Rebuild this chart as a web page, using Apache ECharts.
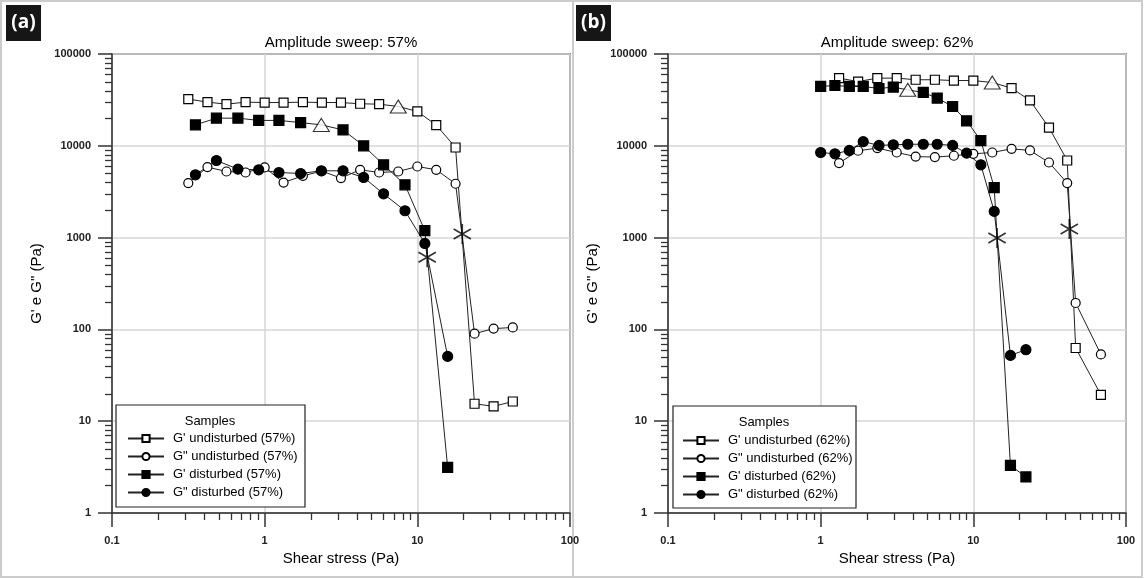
<!DOCTYPE html>
<html><head><meta charset="utf-8">
<script src="https://cdn.jsdelivr.net/npm/echarts@6/dist/echarts.min.js"></script>
<style>html,body{margin:0;padding:0;background:#fff}#c{width:1144px;height:579px}</style>
</head><body><div id="c"></div>
<script>
// ---------- Panel (a): Amplitude sweep 57% ----------
const xUndistA   = [0.316,0.422,0.562,0.75,1.0,1.33,1.78,2.37,3.16,4.22,5.62,7.5,10,13.3,17.8,23.7,31.6,42.2];
const gpUndistA  = [32300,29900,28400,29900,29600,29600,29900,29600,29600,28700,28400,26800,23700,16800,9580,15.5,14.5,16.4];
const gppUndistA = [3930,5860,5250,5120,5810,3980,4710,5300,4450,5480,5120,5250,5950,5480,3860,89.8,102,105];
const xDistA     = [0.352,0.483,0.668,0.914,1.24,1.72,2.35,3.26,4.45,6.01,8.3,11.2,15.8];
const gpDistA    = [16900,20000,20000,18900,18900,17900,16900,14900,10000,6210,3760,1190,3.14];
const gppDistA   = [4830,6920,5570,5480,5120,4990,5340,5340,4520,3000,1960,863,50.8];
const lvrIdxUndistA = 11;   // triangle on G' undisturbed
const lvrIdxDistA   = 6;    // triangle on G' disturbed
const crossXA = [11.6, 19.7];
const crossYA = [610, 1095];

// ---------- Panel (b): Amplitude sweep 62% ----------
const xUndistB   = [1.32,1.76,2.35,3.15,4.19,5.6,7.46,10,13.3,17.8,23.5,31.3,41.2,46.8,68.5];
const gpUndistB  = [54600,50100,54600,54600,52400,52400,51400,51400,48900,42500,31200,15800,6920,62.7,19.4];
const gppUndistB = [6480,8830,9440,8450,7640,7530,7790,8180,8450,9270,8900,6580,3930,194,53.4];
const xDistB     = [1.0,1.24,1.54,1.90,2.41,2.99,3.72,4.70,5.80,7.32,9.03,11.2,13.7,17.5,22.1];
const gpDistB    = [44300,45400,44300,44300,42100,43600,40700,38100,33100,26800,18700,11400,3510,3.30,2.47];
const gppDistB   = [8450,8180,8900,11100,10100,10250,10400,10400,10400,10100,8320,6210,1930,52.1,60.1];
const lvrIdxUndistB = 8;
const lvrIdxDistB   = 6;
const crossXB = [14.3, 42.5];
const crossYB = [990, 1240];

// ---------- Text ----------
const titles = ['Amplitude sweep: 57%', 'Amplitude sweep: 62%'];
const panelTags = ['(a)', '(b)'];
const namesA = ["G' undisturbed (57%)", 'G" undisturbed (57%)', "G' disturbed (57%)", 'G" disturbed (57%)'];
const namesB = ["G' undisturbed (62%)", 'G" undisturbed (62%)', "G' disturbed (62%)", 'G" disturbed (62%)'];
const xName = 'Shear stress (Pa)';
const yName = 'G\' e G" (Pa)';
const legendTitle = 'Samples';
const minorMult = [2,3,4,5,6,7,8,9];
const xDecades = [0.1, 1, 10];
const yDecades = [1, 10, 100, 1000, 10000];

const FONT = "'Liberation Sans', Arial, sans-serif";
const chart = echarts.init(document.getElementById('c'), null, {renderer: 'canvas'});

function pairs(xs, ys, skipIdx) {
  return xs.map((x, i) => i === skipIdx ? {value: [x, ys[i]], symbol: 'none'} : [x, ys[i]]);
}
function lineSeries(name, gi, data, symbol, filled, size) {
  return {
    name, type: 'line', xAxisIndex: gi, yAxisIndex: gi, data,
    symbol, symbolSize: size, showSymbol: true,
    lineStyle: {color: '#222', width: 1},
    itemStyle: {color: filled ? '#000' : '#fff', borderColor: '#000', borderWidth: 1.2},
    emphasis: {disabled: true}, z: 3
  };
}
function triSeries(gi, pts) {
  return {type: 'scatter', xAxisIndex: gi, yAxisIndex: gi, data: pts, symbol: 'triangle', symbolSize: [16, 13],
    itemStyle: {color: '#fff', borderColor: '#000', borderWidth: 1.1}, z: 6, emphasis: {disabled: true}};
}
const starPath = 'path://M10,0 L10,20 M1.34,5 L18.66,15 M1.34,15 L18.66,5';
function starSeries(gi, xs, ys) {
  return {type: 'scatter', xAxisIndex: gi, yAxisIndex: gi, data: xs.map((x, i) => [x, ys[i]]),
    symbol: starPath, symbolSize: 20, symbolKeepAspect: true,
    itemStyle: {color: 'transparent', borderColor: '#000', borderWidth: 1.6}, z: 7, emphasis: {disabled: true}};
}
const fmt = v => v < 1 ? String(+v.toFixed(1)) : String(Math.round(v));
function xAx(gi) {
  return {type: 'log', logBase: 10, gridIndex: gi, min: 0.1, max: 100,
    name: xName, nameLocation: 'middle', nameGap: 34,
    nameTextStyle: {fontSize: 15, fontFamily: FONT, color: '#000'},
    axisLine: {show: true, onZero: false, lineStyle: {color: '#333', width: 1.5}},
    axisTick: {show: true, inside: false, length: 14, lineStyle: {color: '#333', width: 1.5}},
    axisLabel: {margin: 22, fontSize: 11, fontWeight: 'bold', fontFamily: FONT, color: '#222', formatter: fmt},
    splitLine: {show: true, lineStyle: {color: '#d6d6d6', width: 1.5}}};
}
function yAx(gi) {
  return {type: 'log', logBase: 10, gridIndex: gi, min: 1, max: 100000,
    name: yName, nameLocation: 'middle', nameGap: 68,
    nameTextStyle: {fontSize: 15, fontFamily: FONT, color: '#000'},
    axisLine: {show: true, onZero: false, lineStyle: {color: '#333', width: 1.5}},
    axisTick: {show: true, inside: false, length: 14, lineStyle: {color: '#333', width: 1.5}},
    axisLabel: {margin: 21, fontSize: 11, fontWeight: 'bold', fontFamily: FONT, color: '#222', formatter: fmt},
    splitLine: {show: true, lineStyle: {color: '#d6d6d6', width: 1.5}}};
}
function legendOf(names, left, top) {
  return {data: names, orient: 'vertical', left, top, padding: 0, itemWidth: 36, itemHeight: 9, itemGap: 5,
    z: 60, selectedMode: false,
    textStyle: {fontSize: 13, fontFamily: FONT, color: '#000', padding: [0, 0, 0, 4]}};
}

const series = [
  lineSeries(namesA[0], 0, pairs(xUndistA, gpUndistA, lvrIdxUndistA), 'rect', false, 9),
  lineSeries(namesA[1], 0, pairs(xUndistA, gppUndistA), 'circle', false, 9),
  lineSeries(namesA[2], 0, pairs(xDistA, gpDistA, lvrIdxDistA), 'rect', true, 10),
  lineSeries(namesA[3], 0, pairs(xDistA, gppDistA), 'circle', true, 10),
  triSeries(0, [[xUndistA[lvrIdxUndistA], gpUndistA[lvrIdxUndistA]], [xDistA[lvrIdxDistA], gpDistA[lvrIdxDistA]]]),
  starSeries(0, crossXA, crossYA),
  lineSeries(namesB[0], 1, pairs(xUndistB, gpUndistB, lvrIdxUndistB), 'rect', false, 9),
  lineSeries(namesB[1], 1, pairs(xUndistB, gppUndistB), 'circle', false, 9),
  lineSeries(namesB[2], 1, pairs(xDistB, gpDistB, lvrIdxDistB), 'rect', true, 10),
  lineSeries(namesB[3], 1, pairs(xDistB, gppDistB), 'circle', true, 10),
  triSeries(1, [[xUndistB[lvrIdxUndistB], gpUndistB[lvrIdxUndistB]], [xDistB[lvrIdxDistB], gpDistB[lvrIdxDistB]]]),
  starSeries(1, crossXB, crossYB)
];

const grids = [
  {left: 112, top: 54, width: 458, height: 459, show: true, borderColor: '#333', borderWidth: 1.5, containLabel: false},
  {left: 668, top: 54, width: 458, height: 459, show: true, borderColor: '#333', borderWidth: 1.5, containLabel: false}
];
const textStyleBase = {fontFamily: FONT, fill: '#000'};
function baseGraphics() {
  return [
    {type: 'rect', shape: {x: 1, y: 1, width: 1141, height: 576}, style: {fill: 'none', stroke: '#cccccc', lineWidth: 2}, silent: true, z: 0},
    {type: 'line', shape: {x1: 573, y1: 1, x2: 573, y2: 577}, style: {stroke: '#cccccc', lineWidth: 2}, silent: true},
    {type: 'rect', shape: {x: 6, y: 5, width: 35, height: 36}, style: {fill: '#161616'}, silent: true},
    {type: 'text', x: 23.5, y: 23, style: {text: panelTags[0], fill: '#fff', font: "bold 19px 'Open Sans', sans-serif", align: 'center', verticalAlign: 'middle'}, silent: true},
    {type: 'rect', shape: {x: 576, y: 5, width: 35, height: 36}, style: {fill: '#161616'}, silent: true},
    {type: 'text', x: 593.5, y: 23, style: {text: panelTags[1], fill: '#fff', font: "bold 19px 'Open Sans', sans-serif", align: 'center', verticalAlign: 'middle'}, silent: true},
    {type: 'text', x: 341, y: 43, style: Object.assign({}, textStyleBase, {text: titles[0], fontSize: 15, align: 'center', verticalAlign: 'middle'}), silent: true},
    {type: 'text', x: 897, y: 43, style: Object.assign({}, textStyleBase, {text: titles[1], fontSize: 15, align: 'center', verticalAlign: 'middle'}), silent: true},
    {type: 'rect', shape: {x: 116, y: 405, width: 189, height: 102}, style: {fill: '#fff', stroke: '#222', lineWidth: 1.2}, z: 20, silent: true},
    {type: 'rect', shape: {x: 673, y: 406, width: 183, height: 102}, style: {fill: '#fff', stroke: '#222', lineWidth: 1.2}, z: 20, silent: true},
    {type: 'text', x: 210, y: 421, z: 21, style: Object.assign({}, textStyleBase, {text: legendTitle, fontSize: 13, align: 'center', verticalAlign: 'middle'}), silent: true},
    {type: 'text', x: 764, y: 422, z: 21, style: Object.assign({}, textStyleBase, {text: legendTitle, fontSize: 13, align: 'center', verticalAlign: 'middle'}), silent: true}
  ];
}

chart.setOption({
  animation: false,
  backgroundColor: '#fff',
  grid: grids,
  xAxis: [xAx(0), xAx(1)],
  yAxis: [yAx(0), yAx(1)],
  legend: [legendOf(namesA, 127, 432), legendOf(namesB, 682, 434)],
  series,
  graphic: baseGraphics()
});

// minor ticks from the axes' own scales
function minorTickEls(gi) {
  const els = [];
  const yBase = chart.convertToPixel({yAxisIndex: gi}, 1);
  const xBase = chart.convertToPixel({xAxisIndex: gi}, 0.1);
  xDecades.forEach(d => minorMult.forEach(k => {
    const px = Math.round(chart.convertToPixel({xAxisIndex: gi}, d * k)) + 0.5;
    els.push({type: 'line', shape: {x1: px, y1: yBase, x2: px, y2: yBase + 7}, style: {stroke: '#333', lineWidth: 1.3}, silent: true});
  }));
  yDecades.forEach(d => minorMult.forEach(k => {
    const py = Math.round(chart.convertToPixel({yAxisIndex: gi}, d * k)) + 0.5;
    els.push({type: 'line', shape: {x1: xBase - 7, y1: py, x2: xBase, y2: py}, style: {stroke: '#333', lineWidth: 1.3}, silent: true});
  }));
  return els;
}
chart.setOption({graphic: baseGraphics().concat(minorTickEls(0), minorTickEls(1))}, {replaceMerge: ['graphic']});
</script></body></html>
